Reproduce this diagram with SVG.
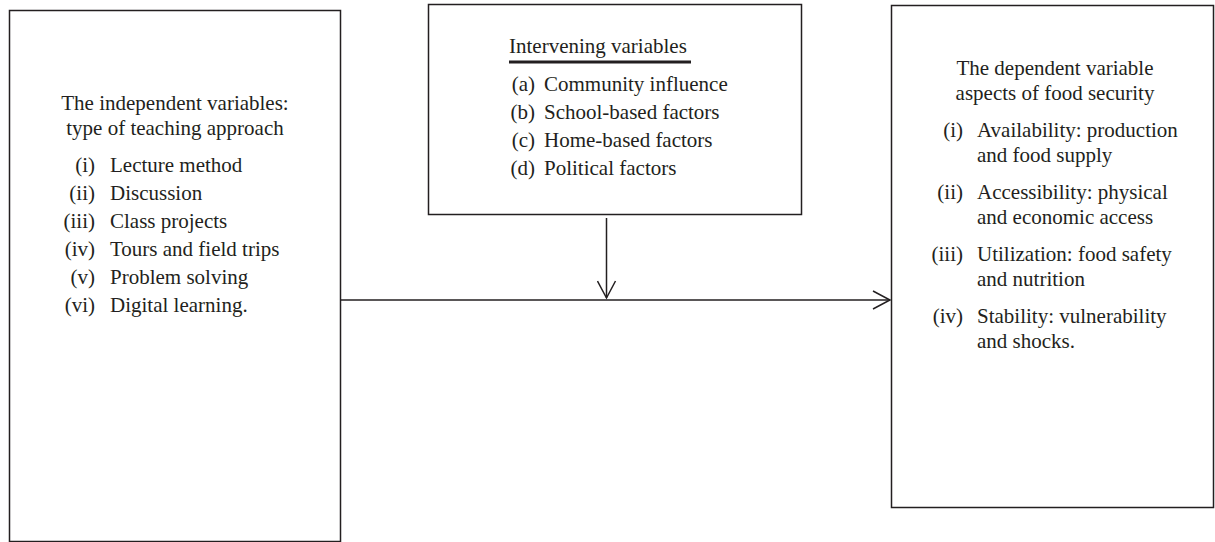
<svg xmlns="http://www.w3.org/2000/svg" width="1215" height="542" viewBox="0 0 1215 542">
<style>
.box{fill:#fff;stroke:#231f20;stroke-width:1.5}
text{font-family:"Liberation Serif","Times New Roman",serif;font-size:21px;fill:#231f20}
.c{text-anchor:middle}
.r{text-anchor:end}
.ln{stroke:#231f20;stroke-width:1.5;fill:none}
</style>
<defs>
<marker id="arr" markerWidth="20" markerHeight="20" refX="18" refY="10" orient="auto" markerUnits="userSpaceOnUse">
<path d="M1,1 L18,10 L1,19" fill="none" stroke="#231f20" stroke-width="1.5"/>
</marker>
</defs>
<rect width="1215" height="542" fill="#fff"/>
<g id="independent">
<rect class="box" x="9.5" y="10.5" width="331" height="531"/>
<text class="c" x="175" y="110">The independent variables:</text>
<text class="c" x="175" y="135">type of teaching approach</text>
<text class="r" x="95" y="172">(i)</text><text x="110" y="172">Lecture method</text>
<text class="r" x="95" y="200">(ii)</text><text x="110" y="200">Discussion</text>
<text class="r" x="95" y="228">(iii)</text><text x="110" y="228">Class projects</text>
<text class="r" x="95" y="256">(iv)</text><text x="110" y="256">Tours and field trips</text>
<text class="r" x="95" y="284">(v)</text><text x="110" y="284">Problem solving</text>
<text class="r" x="95" y="312">(vi)</text><text x="110" y="312">Digital learning.</text>
</g>
<g id="intervening">
<rect class="box" x="428.5" y="4.5" width="373" height="210"/>
<text x="509" y="53">Intervening variables</text>
<line x1="509" y1="62" x2="691" y2="62" stroke="#231f20" stroke-width="3"/>
<text class="r" x="535" y="91">(a)</text><text x="544" y="91">Community influence</text>
<text class="r" x="535" y="119">(b)</text><text x="544" y="119">School-based factors</text>
<text class="r" x="535" y="147">(c)</text><text x="544" y="147">Home-based factors</text>
<text class="r" x="535" y="175">(d)</text><text x="544" y="175">Political factors</text>
</g>
<g id="dependent">
<rect class="box" x="891.5" y="5.5" width="322" height="502"/>
<text class="c" x="1055" y="75">The dependent variable</text>
<text class="c" x="1055" y="100">aspects of food security</text>
<text class="r" x="963" y="137">(i)</text><text x="977" y="137">Availability: production</text>
<text x="977" y="162">and food supply</text>
<text class="r" x="963" y="199">(ii)</text><text x="977" y="199">Accessibility: physical</text>
<text x="977" y="224">and economic access</text>
<text class="r" x="963" y="261">(iii)</text><text x="977" y="261">Utilization: food safety</text>
<text x="977" y="286">and nutrition</text>
<text class="r" x="963" y="323">(iv)</text><text x="977" y="323">Stability: vulnerability</text>
<text x="977" y="348">and shocks.</text>
</g>
<g id="connectors">
<line class="ln" x1="340.5" y1="300" x2="890" y2="300" marker-end="url(#arr)"/>
<line class="ln" x1="606.5" y1="218" x2="606.5" y2="298" marker-end="url(#arr)"/>
</g>
</svg>
